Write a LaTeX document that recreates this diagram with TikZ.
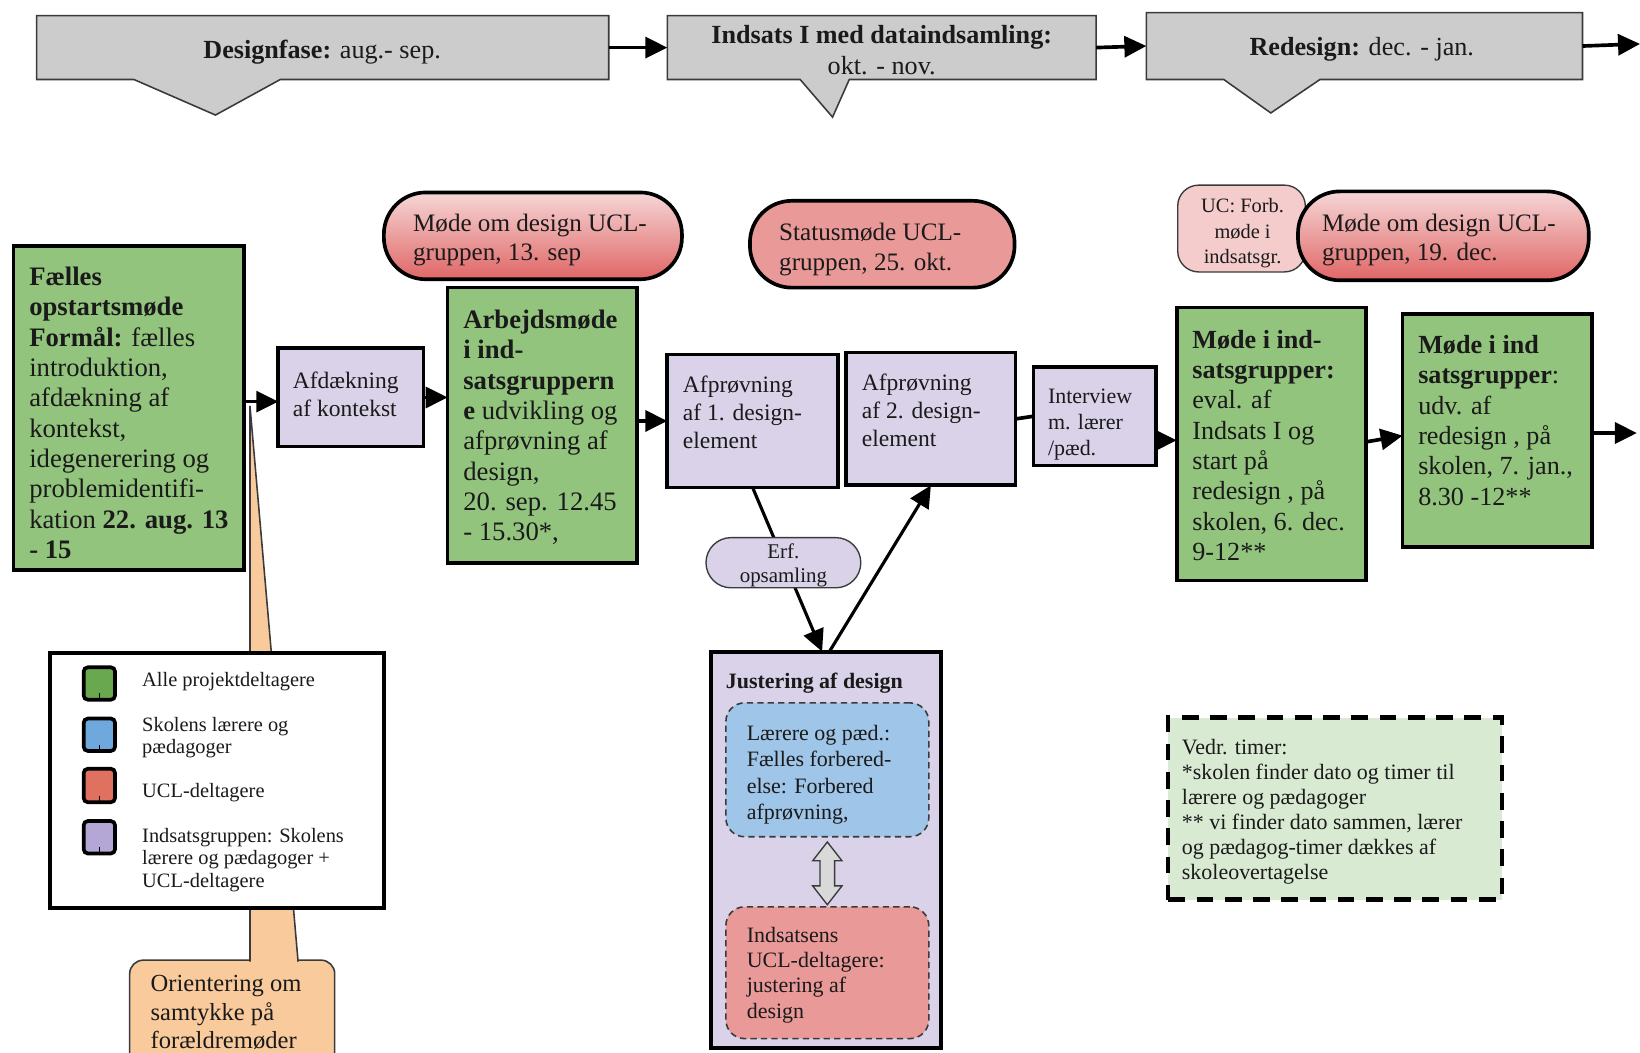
\documentclass[tikz,border=0pt]{standalone}
\usepackage{fontspec}
\setmainfont{Liberation Serif}
\usetikzlibrary{arrows.meta,fit,calc}
\definecolor{grn}{HTML}{93C47D}
\definecolor{lav}{HTML}{D9D2E9}
\definecolor{gry}{HTML}{CCCCCC}
\definecolor{pnk}{HTML}{F4CCCC}
\definecolor{pnktop}{HTML}{F6D6D6}
\definecolor{lred}{HTML}{EA9999}
\definecolor{dred}{HTML}{E06666}
\definecolor{lblu}{HTML}{9FC5E8}
\definecolor{orng}{HTML}{F9CB9C}
\definecolor{lgrn}{HTML}{D9EAD3}
\definecolor{sqgreen}{HTML}{6AA84F}
\definecolor{sqblue}{HTML}{6FA8DC}
\definecolor{sqred}{HTML}{E0705F}
\definecolor{sqpurp}{HTML}{B4A7D6}
\definecolor{txtc}{HTML}{1A1A1A}
\definecolor{edge}{HTML}{3A3A3A}
\newcommand\fsz[2]{\fontsize{#1}{#2}\selectfont}
\begin{document}
\begin{tikzpicture}[x=1pt,y=-1pt,
 every node/.style={inner sep=0pt,outer sep=0pt},
 gbox/.style={draw=black,line width=3.5pt,fill=grn},
 lbox/.style={draw=black,line width=3.5pt,fill=lav},
 pillbox/.style={draw=black,line width=3.5pt,rounded corners=40pt},
 topbox/.style={draw=edge,line width=1.5pt,fill=gry},
 txt/.style={anchor=north west,align=left,text=txtc},
 ctxt/.style={anchor=north,align=center,text=txtc},
 arr/.style={line width=3.5pt,-{Triangle[length=21pt,width=20pt]}},
 sq/.style={draw=black,line width=3.5pt,rounded corners=4pt},
 sqmark/.style={line width=1.6pt},
 thinedge/.style={draw=edge,line width=1.3pt}
]
\useasboundingbox (0,0) rectangle (1568,1006);
\clip (0,0) rectangle (1568,1006);

% ---------- top row ----------
\node[fit={(35,15) (582,76)}] (design) {};
\draw[topbox] (design.north west) -- (design.north east) -- (design.south east) -- (268,76) -- (206,110) -- (128,76) -- (design.south west) -- cycle;
\node[anchor=base,text=txtc,font=\fsz{25}{29}] (designT) at (308,56) {\textbf{Designfase:} aug.- sep.};

\node[fit={(638,15) (1048,76)}] (indsats) {};
\draw[topbox] (indsats.north west) -- (indsats.north east) -- (indsats.south east) -- (812,76) -- (796,112) -- (765,76) -- (indsats.south west) -- cycle;
\node[ctxt,font=\fsz{25}{29}] (indsatsT) at (843,21.5) {\strut\textbf{Indsats I med dataindsamling:}\\ okt. - nov.};

\node[fit={(1096,12) (1513,76)}] (redesign) {};
\draw[topbox] (redesign.north west) -- (redesign.north east) -- (redesign.south east) -- (1262,76) -- (1215,108) -- (1170,76) -- (redesign.south west) -- cycle;
\node[anchor=base,text=txtc,font=\fsz{25}{29}] (redesignT) at (1302,53.5) {\textbf{Redesign:} dec. - jan.};

\coordinate (topout) at (1568,42);
\draw[arr] (design.east) -- (indsats.west);
\draw[arr] (indsats.east) -- (redesign.west);
\draw[arr] (redesign.east) -- (topout);

% ---------- orange callout ----------
\node[fit={(124,918) (320,1040)},draw=edge,line width=1.5pt,fill=orng,rounded corners=13pt] (orient) {};
\fill[orng] (239,388) -- (285,921) -- (239,921) -- cycle;
\draw[edge,line width=1.5pt] (239,919.5) -- (239,388) -- (285,919.5);
\node[txt,font=\fsz{23.5}{27.2}] (orientT) at (144,929.3) {\strut Orientering om\\ samtykke på\\ forældremøder};

% ---------- legend ----------
\node[fit={(48,624) (367,868)},draw=black,line width=4pt,fill=white] (legend) {};
\node[sq,fill=sqgreen,fit={(80,638) (110,669)}] (sq1) {};
\node[sq,fill=sqblue,fit={(80,687) (110,718)}] (sq2) {};
\node[sq,fill=sqred,fit={(80,735) (110,767)}] (sq3) {};
\node[sq,fill=sqpurp,fit={(80,785) (110,816)}] (sq4) {};
\foreach \s in {sq1,sq2,sq3,sq4} {\draw[sqmark] (\s.south) -- ++(0,-6);}
\node[anchor=base west,text=txtc,font=\fsz{19.5}{21.3}] (l1) at (136,656) {Alle projektdeltagere};
\node[txt,font=\fsz{19.5}{21.3}] (l2) at (136,684.1) {\strut Skolens lærere og\\ pædagoger};
\node[anchor=base west,text=txtc,font=\fsz{19.5}{21.3}] (l3) at (136,762.6) {UCL-deltagere};
\node[txt,font=\fsz{19.5}{21.3}] (l4) at (136,790.7) {\strut Indsatsgruppen: Skolens\\ lærere og pædagoger +\\ UCL-deltagere};

% ---------- middle row ----------
\node[gbox,fit={(13,235) (233,545)}] (faelles) {};
\node[txt,font=\fsz{25.5}{29}] (faellesT) at (28,252.7) {\strut\textbf{Fælles}\\ \textbf{opstartsmøde}\\ \textbf{Formål:} fælles\\ introduktion,\\ afdækning af\\ kontekst,\\ idegenerering og\\ problemidentifi-\\ kation \textbf{22. aug. 13}\\ \textbf{- 15}};

\node[lbox,fit={(266,333) (405,427)}] (afd) {};
\node[txt,font=\fsz{22.5}{27}] (afdT) at (280,352.1) {\strut Afdækning\\ af kontekst};

\node[pillbox,top color=pnktop,bottom color=dred,fit={(367,184) (652,267)}] (pill13) {};
\node[txt,font=\fsz{24}{28.5}] (pill13T) at (395,201) {\strut Møde om design UCL-\\ gruppen, 13. sep};

\node[gbox,fit={(428,275) (609,538)}] (arb) {};
\node[txt,font=\fsz{25.5}{29}] (arbT) at (443,293.7) {\strut\textbf{Arbejdsmøde}\\ \textbf{i ind-}\\ \textbf{satsgruppern}\\ \textbf{e} udvikling og\\ afprøvning af\\ design,\\ 20. sep. 12.45\\ - 15.30*,};

\node[lbox,fit={(638,339) (801,466)}] (afp1) {};
\node[txt,font=\fsz{22.5}{27}] (afp1T) at (653,356.1) {\strut Afprøvning\\ af 1. design-\\ element};

\node[lbox,fit={(809,337) (971,464)}] (afp2) {};
\node[txt,font=\fsz{22.5}{27}] (afp2T) at (824,354.1) {\strut Afprøvning\\ af 2. design-\\ element};

\node[pillbox,fill=lred,fit={(717,192) (970,275)}] (status) {};
\node[txt,font=\fsz{24}{28.5}] (statusT) at (745,210) {\strut Statusmøde UCL-\\ gruppen, 25. okt.};

\node[lbox,fit={(988,351) (1105,445)}] (interview) {};
\node[txt,font=\fsz{21}{24.7}] (interviewT) at (1002,368.7) {\strut Interview\\ m. lærer\\ /pæd.};

\node[gbox,fit={(1125,294) (1306,555)}] (mode1) {};
\node[txt,font=\fsz{25}{29}] (mode1T) at (1140,312.7) {\strut\textbf{Møde i ind-}\\ \textbf{satsgrupper:}\\ eval. af\\ Indsats I og\\ start på\\ redesign , på\\ skolen, 6. dec.\\ 9-12**};

\node[gbox,fit={(1341,300) (1522,523)}] (mode2) {};
\node[txt,font=\fsz{25}{29}] (mode2T) at (1356,317.7) {\strut\textbf{Møde i ind}\\ \textbf{satsgrupper}:\\ udv. af\\ redesign , på\\ skolen, 7. jan.,\\ 8.30 -12**};

\node[fit={(1126,177) (1248,260)},draw=edge,line width=1.3pt,fill=pnk,rounded corners=20pt] (uc) {};
\node[ctxt,font=\fsz{19.5}{24.5}] (ucT) at (1188,185.9) {\strut UC: Forb.\\ møde i\\ indsatsgr.};

\node[pillbox,top color=pnktop,bottom color=dred,fit={(1241,183) (1519,268)}] (pill19) {};
\node[txt,font=\fsz{24}{28.5}] (pill19T) at (1264,201) {\strut Møde om design UCL-\\ gruppen, 19. dec.};

% ---------- justering ----------
\node[lbox,line width=4pt,fit={(680,623) (900,1002)}] (just) {};
\node[txt,font=\fsz{21}{25}] (justT) at (694,640.5) {\strut\textbf{Justering af design}};
\node[fit={(694,672) (888,800)},draw=edge,dash pattern=on 6pt off 4pt,line width=1.5pt,fill=lblu,rounded corners=18pt] (blue) {};
\node[txt,font=\fsz{21}{25.2}] (blueT) at (714,690.4) {\strut Lærere og pæd.:\\ Fælles forbered-\\ else: Forbered\\ afprøvning,};
\node[fit={(694,867) (888,993)},draw=edge,dash pattern=on 6pt off 4pt,line width=1.5pt,fill=lred,rounded corners=18pt] (red) {};
\node[txt,font=\fsz{21}{24.2}] (redT) at (714,884) {\strut Indsatsens\\ UCL-deltagere:\\ justering af\\ design};
\path (blue.south) ++(0,5) coordinate (dA);
\draw[thinedge,fill=gry!75!white] (dA) -- ++(14,18) -- ++(-7,0) -- ++(0,24) -- ++(7,0) -- ++(-14,18) -- ++(-14,-18) -- ++(7,0) -- ++(0,-24) -- ++(-7,0) -- cycle;

% ---------- vedr ----------
\node[fit={(1117,686) (1436,860)},draw=black,line width=4pt,dash pattern=on 16pt off 11pt,fill=lgrn] (vedr) {};
\node[txt,font=\fsz{21}{24}] (vedrT) at (1130,704.2) {\strut Vedr. timer:\\ *skolen finder dato og timer til\\ lærere og pædagoger\\ ** vi finder dato sammen, lærer\\ og pædagog-timer dækkes af\\ skoleovertagelse};

% ---------- connectors ----------
\draw[arr] ([yshift=-4pt]faelles.east |- afd.west) -- ([yshift=-4pt]afd.west);
\draw[arr] (afd.east) -- (afd.east -| arb.west);
\draw[arr] (arb.east |- afp1.west) -- (afp1.west);
\draw[line width=3.5pt] (afp2.east) -- (interview.west);
\draw[arr] ([yshift=-23pt]interview.east) -- ([yshift=-23pt]interview.east -| mode1.west);
\draw[arr] ([yshift=2pt]mode1.east) -- ([yshift=-5pt]mode2.west);
\coordinate (out2) at (1565,414);
\draw[arr] (mode2.east |- out2) -- (out2);

\draw[arr,line width=3pt] (afp1.south) -- ([xshift=-4pt]just.north);
\draw[arr,line width=3pt] ([xshift=3pt]just.north) -- (afp2.south);
\node[fit={(675,514) (823,562)},draw=edge,line width=1.3pt,fill=lav,rounded corners=24pt] (erf) {};
\node[ctxt,font=\fsz{20}{23}] (erfT) at (749,517.9) {\strut Erf.\\ opsamling};
\end{tikzpicture}
\end{document}
